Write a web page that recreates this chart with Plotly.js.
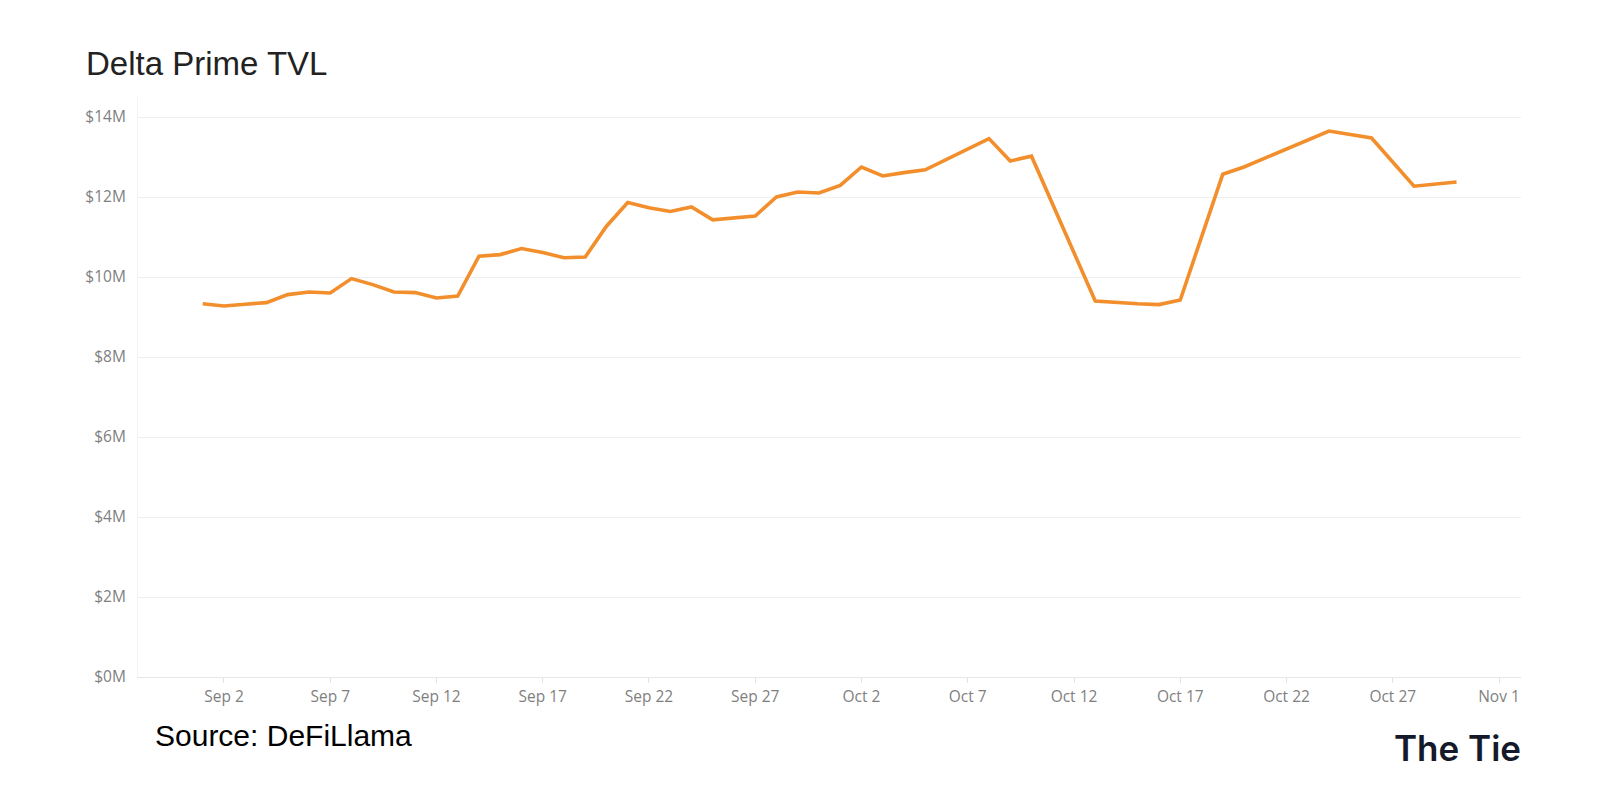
<!DOCTYPE html>
<html>
<head>
<meta charset="utf-8">
<script src="https://cdn.plot.ly/plotly-3.0.1.min.js"></script>
<style>
  html, body { margin: 0; padding: 0; background: #ffffff; }
  #chart { width: 1600px; height: 800px; }
</style>
</head>
<body>
<div id="chart"></div>
<script>
// Dates of observed points (daily TVL, straight segments where no vertex is visible)
const dates = [
  '2023-09-01','2023-09-02','2023-09-03','2023-09-04','2023-09-05','2023-09-06','2023-09-07',
  '2023-09-08','2023-09-09','2023-09-10','2023-09-11','2023-09-12','2023-09-13','2023-09-14',
  '2023-09-15','2023-09-16','2023-09-17','2023-09-18','2023-09-19','2023-09-20','2023-09-21',
  '2023-09-22','2023-09-23','2023-09-24','2023-09-25','2023-09-26','2023-09-27','2023-09-28',
  '2023-09-29','2023-09-30','2023-10-01','2023-10-02','2023-10-03','2023-10-04','2023-10-05',
  '2023-10-08','2023-10-09','2023-10-10','2023-10-13','2023-10-15','2023-10-16','2023-10-17',
  '2023-10-19','2023-10-20','2023-10-24','2023-10-26','2023-10-28','2023-10-30'
];
// TVL in millions of USD
const tvlMillions = [
  9.33, 9.275, 9.32, 9.36, 9.56, 9.625, 9.60,
  9.96, 9.81, 9.625, 9.61, 9.475, 9.525, 10.52,
  10.56, 10.71, 10.61, 10.48, 10.50, 11.27, 11.86,
  11.73, 11.64, 11.75, 11.43, 11.475, 11.525, 12.0,
  12.125, 12.10, 12.29, 12.75, 12.525, 12.61, 12.68,
  13.46, 12.90, 13.02, 9.40, 9.33, 9.31, 9.425,
  12.57, 12.75, 13.65, 13.475, 12.27, 12.375
];
const yTickVals = [0, 2, 4, 6, 8, 10, 12, 14];
const yTickText = ['$0M', '$2M', '$4M', '$6M', '$8M', '$10M', '$12M', '$14M'];
const titleText = 'Delta Prime TVL';
const sourceText = 'Source: DeFiLlama';
const logoText = 'The Tie';

const trace = {
  type: 'scatter',
  mode: 'lines',
  x: dates,
  y: tvlMillions,
  line: { color: '#F28E2B', width: 3.6 },
  hoverinfo: 'x+y'
};

const layout = {
  width: 1600,
  height: 800,
  paper_bgcolor: '#ffffff',
  plot_bgcolor: '#ffffff',
  margin: { l: 138, r: 79, t: 97, b: 123 },
  showlegend: false,
  xaxis: {
    type: 'date',
    range: ['2023-08-28 22:55', '2023-11-02 00:50'],
    tick0: '2023-09-02',
    dtick: 5 * 86400000,
    tickformat: '%b %-d',
    showgrid: false,
    zeroline: false,
    showline: true,
    linecolor: '#e6e6e6',
    linewidth: 1,
    ticks: 'outside',
    ticklen: 5,
    tickcolor: '#e2e2e2',
    tickfont: { family: 'Open Sans, sans-serif', size: 15.5, color: '#7f7f7f' }
  },
  yaxis: {
    range: [0, 14.5],
    tickmode: 'array',
    tickvals: yTickVals,
    ticktext: yTickText,
    showgrid: true,
    gridcolor: '#efefef',
    gridwidth: 1,
    zeroline: false,
    showline: true,
    linecolor: '#f4f4f4',
    ticks: '',
    ticklabelstandoff: 8,
    tickfont: { family: 'Open Sans, sans-serif', size: 15.5, color: '#7f7f7f' }
  },
  annotations: [
    {
      text: titleText,
      xref: 'paper', yref: 'paper',
      x: -0.039, y: 1.058,
      xanchor: 'left', yanchor: 'middle',
      showarrow: false,
      font: { family: 'Liberation Sans, Arial, sans-serif', size: 33, color: '#222222' }
    },
    {
      text: sourceText,
      xref: 'paper', yref: 'paper',
      x: 0.011, y: -0.1,
      xanchor: 'left', yanchor: 'middle',
      showarrow: false,
      font: { family: 'Liberation Sans, Arial, sans-serif', size: 30, color: '#000000' }
    },
    {
      text: logoText,
      xref: 'paper', yref: 'paper',
      x: 1.0014, y: -0.122,
      xanchor: 'right', yanchor: 'middle',
      showarrow: false,
      font: { family: 'Inter, Roboto, sans-serif', size: 35, weight: 600, color: '#141a2a' }
    }
  ]
};

Plotly.newPlot('chart', [trace], layout, { displayModeBar: false, staticPlot: true });
</script>
</body>
</html>
